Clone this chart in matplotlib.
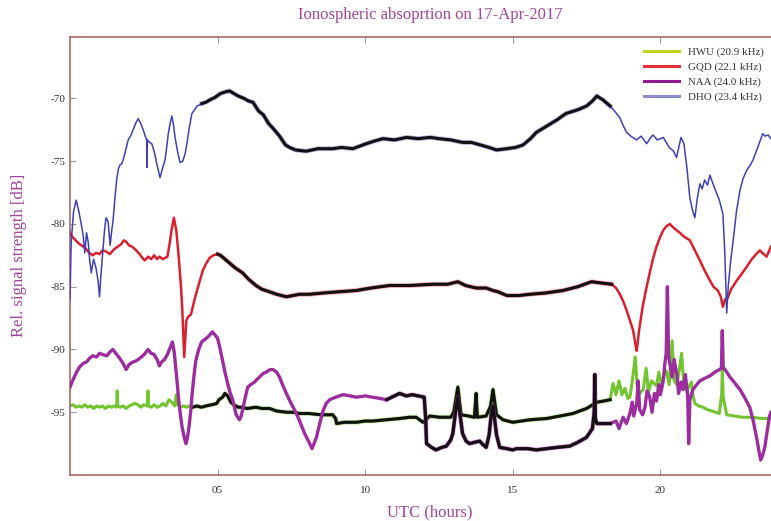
import matplotlib
matplotlib.use("Agg")
import matplotlib.pyplot as plt
from matplotlib.lines import Line2D
import numpy as np

plt.rcParams['font.family'] = ['Liberation Serif', 'DejaVu Serif']

title = "Ionospheric absoprtion on 17-Apr-2017"
xlabel = "UTC (hours)"
ylabel = "Rel. signal strength [dB]"
series_names = ["HWU (20.9 kHz)", "GQD (22.1 kHz)", "NAA (24.0 kHz)", "DHO (23.4 kHz)"]
x_ticks = [5, 10, 15, 20]
x_tick_labels = ["05", "10", "15", "20"]
y_ticks = [-70, -75, -80, -85, -90, -95]

dho_x = [0.0, 0.04, 0.12, 0.21, 0.3, 0.38, 0.45, 0.5, 0.56, 0.62, 0.66, 0.72, 0.8, 0.88, 0.95, 1.0, 1.05, 1.11,
         1.17, 1.22, 1.29, 1.36, 1.41, 1.46, 1.52, 1.58, 1.64, 1.69, 1.75, 1.8, 1.88, 1.97, 2.05, 2.14, 2.22, 2.31,
         2.4, 2.48, 2.55, 2.6, 2.61, 2.62, 2.7, 2.77, 2.85, 2.95, 3.05, 3.13, 3.22, 3.28, 3.33, 3.4, 3.45, 3.5,
         3.56, 3.65, 3.73, 3.82, 3.9, 3.96, 4.05, 4.13, 4.22, 4.3, 4.4, 4.47, 4.6, 4.75, 4.92, 5.1, 5.3, 5.41,
         5.55, 5.7, 5.9, 6.05, 6.2, 6.39, 6.55, 6.73, 6.85, 6.96, 7.1, 7.3, 7.44, 7.64, 8.0, 8.4, 8.9, 9.2, 9.58,
         10.04, 10.3, 10.6, 11.0, 11.4, 11.8, 12.2, 12.5, 12.9, 13.3, 13.6, 13.9, 14.2, 14.45, 14.8, 15.1, 15.35,
         15.6, 15.8, 16.15, 16.5, 16.8, 17.2, 17.5, 17.7, 17.85, 18.05, 18.3, 18.45, 18.62, 18.75, 18.86, 19.0,
         19.2, 19.35, 19.54, 19.65, 19.75, 19.9, 20.1, 20.2, 20.3, 20.45, 20.55, 20.7, 20.8, 20.9, 21.0, 21.08,
         21.17, 21.25, 21.34, 21.42, 21.5, 21.6, 21.68, 21.8, 21.9, 22.0, 22.12, 22.18, 22.25, 22.3, 22.38, 22.47,
         22.58, 22.7, 22.8, 22.93, 23.05, 23.14, 23.3, 23.47, 23.55, 23.65, 23.75]
dho_y = [-86.0, -81.5, -79.0, -78.1, -79.0, -80.0, -81.0, -82.3, -80.7, -81.5, -82.7, -83.9, -82.8, -83.5, -84.5,
         -85.8, -84.0, -82.3, -80.5, -79.5, -79.8, -81.7, -80.6, -79.7, -78.0, -76.5, -75.6, -75.3, -75.2, -74.9,
         -74.2, -73.3, -73.0, -72.5, -72.0, -71.6, -72.0, -72.5, -73.0, -73.3, -75.5, -73.3, -73.5, -73.6, -74.2,
         -75.3, -76.3, -75.6, -74.9, -73.8, -72.8, -71.9, -71.4, -72.0, -73.1, -74.3, -75.1, -75.0, -74.4, -73.6,
         -72.2, -71.2, -70.9, -70.6, -70.5, -70.4, -70.3, -70.1, -69.9, -69.6, -69.45, -69.4, -69.6, -69.8, -70.0,
         -70.2, -70.3, -71.0, -71.3, -72.0, -72.3, -72.6, -73.0, -73.7, -73.9, -74.1, -74.2, -74.0, -74.0, -73.9,
         -74.0, -73.6, -73.4, -73.2, -73.3, -73.1, -73.2, -73.1, -73.2, -73.3, -73.5, -73.5, -73.7, -73.9, -74.1,
         -74.0, -73.9, -73.7, -73.2, -72.7, -72.2, -71.7, -71.2, -70.9, -70.6, -70.2, -69.8, -70.1, -70.6, -71.0,
         -71.5, -72.2, -72.7, -73.0, -73.3, -73.0, -73.6, -73.2, -72.9, -73.3, -73.1, -73.5, -73.9, -74.2, -74.7,
         -73.1, -73.6, -75.5, -77.9, -78.8, -79.5, -78.0, -76.8, -77.2, -76.5, -76.9, -76.1, -76.9, -77.5, -78.1,
         -79.2, -82.0, -87.1, -85.0, -83.0, -81.3, -79.0, -77.3, -76.4, -75.7, -75.3, -74.9, -73.9, -72.8, -73.0,
         -72.9, -73.2]

gqd_x = [0.0, 0.04, 0.15, 0.32, 0.45, 0.55, 0.65, 0.77, 0.88, 1.0, 1.1, 1.23, 1.35, 1.5, 1.62, 1.74, 1.82, 1.9,
         2.0, 2.1, 2.2, 2.36, 2.45, 2.53, 2.65, 2.75, 2.85, 2.95, 3.03, 3.15, 3.3, 3.38, 3.44, 3.52, 3.6, 3.66,
         3.71, 3.76, 3.8, 3.84, 3.87, 3.91, 3.94, 4.0, 4.1, 4.2, 4.28, 4.4, 4.5, 4.6, 4.73, 4.85, 5.0, 5.1, 5.25,
         5.4, 5.6, 5.85, 6.05, 6.3, 6.5, 6.76, 7.0, 7.33, 7.55, 7.78, 8.1, 8.57, 9.1, 9.7, 10.2, 10.83, 11.5,
         12.3, 12.8, 13.14, 13.4, 13.76, 14.1, 14.33, 14.5, 14.8, 15.2, 15.58, 16.1, 16.7, 17.2, 17.67, 18.0,
         18.35, 18.5, 18.63, 18.75, 18.86, 19.0, 19.08, 19.15, 19.2, 19.28, 19.4, 19.52, 19.64, 19.75, 19.87,
         20.0, 20.1, 20.2, 20.32, 20.45, 20.55, 20.66, 20.8, 21.0, 21.15, 21.34, 21.5, 21.68, 21.8, 21.95, 22.05,
         22.12, 22.2, 22.28, 22.4, 22.59, 22.75, 22.93, 23.1, 23.25, 23.37, 23.5, 23.6, 23.75]
gqd_y = [-80.7, -80.9, -81.2, -81.6, -81.8, -82.0, -82.3, -82.5, -82.3, -82.4, -82.1, -82.2, -82.4, -82.0, -81.8,
         -81.6, -81.3, -81.4, -81.7, -81.8, -82.0, -82.4, -82.7, -82.9, -82.6, -82.8, -82.5, -82.8, -82.6, -82.8,
         -82.6, -81.5, -80.5, -79.5, -80.5, -82.0, -83.4, -85.0, -86.6, -89.0, -90.6, -89.0, -87.7, -87.4, -87.2,
         -86.2, -85.5, -84.5, -83.7, -83.2, -82.7, -82.5, -82.4, -82.5, -82.8, -83.1, -83.5, -83.9, -84.4, -84.9,
         -85.2, -85.4, -85.6, -85.8, -85.7, -85.6, -85.6, -85.5, -85.4, -85.3, -85.1, -84.9, -84.9, -84.8, -84.8,
         -84.6, -84.9, -85.1, -85.1, -85.3, -85.4, -85.7, -85.7, -85.6, -85.5, -85.3, -85.0, -84.6, -84.7, -84.8,
         -85.1, -85.6, -86.2, -86.9, -87.9, -88.5, -89.5, -90.1, -88.5, -86.6, -85.2, -83.9, -82.8, -81.8, -81.0,
         -80.5, -80.2, -80.0, -80.3, -80.5, -80.7, -81.0, -81.3, -82.0, -82.9, -83.7, -84.5, -85.0, -85.3, -85.8,
         -86.6, -86.0, -85.9, -85.2, -84.5, -84.0, -83.4, -82.8, -82.4, -82.1, -82.4, -82.6, -81.8]

naa_x = [0.0, 0.05, 0.18, 0.32, 0.45, 0.56, 0.66, 0.77, 0.9, 1.0, 1.1, 1.25, 1.35, 1.45, 1.55, 1.65, 1.74, 1.82,
         1.9, 2.0, 2.13, 2.25, 2.42, 2.55, 2.64, 2.75, 2.85, 2.95, 3.03, 3.1, 3.2, 3.3, 3.4, 3.47, 3.53, 3.58,
         3.63, 3.68, 3.74, 3.8, 3.87, 3.93, 3.98, 4.03, 4.09, 4.14, 4.2, 4.26, 4.36, 4.46, 4.57, 4.67, 4.75, 4.82,
         4.9, 5.0, 5.08, 5.17, 5.25, 5.34, 5.42, 5.51, 5.63, 5.74, 5.8, 5.85, 5.93, 6.02, 6.12, 6.25, 6.33, 6.42,
         6.55, 6.65, 6.78, 6.88, 7.0, 7.1, 7.2, 7.33, 7.45, 7.56, 7.67, 7.78, 7.95, 8.08, 8.2, 8.35, 8.45, 8.57,
         8.68, 8.8, 9.0, 9.25, 9.5, 9.7, 10.0, 10.26, 10.5, 10.73, 10.9, 11.17, 11.4, 11.6, 11.8, 12.0, 12.05,
         12.08, 12.25, 12.4, 12.6, 12.75, 12.9, 12.97, 13.05, 13.14, 13.22, 13.3, 13.42, 13.54, 13.7, 13.88, 14.0,
         14.1, 14.2, 14.28, 14.33, 14.4, 14.45, 14.56, 14.8, 15.0, 15.13, 15.5, 15.8, 16.15, 16.5, 16.93, 17.2,
         17.5, 17.7, 17.76, 17.78, 17.8, 17.85, 18.1, 18.3, 18.5, 18.6, 18.74, 18.85, 18.97, 19.05, 19.1, 19.2,
         19.25, 19.3, 19.4, 19.48, 19.55, 19.64, 19.72, 19.8, 19.87, 19.95, 20.0, 20.1, 20.15, 20.2, 20.24, 20.28,
         20.35, 20.4, 20.47, 20.56, 20.62, 20.7, 20.77, 20.85, 20.93, 20.96, 21.0, 21.1, 21.2, 21.34, 21.5, 21.68,
         21.85, 22.0, 22.07, 22.1, 22.13, 22.25, 22.36, 22.5, 22.7, 22.85, 23.03, 23.15, 23.26, 23.35, 23.4,
         23.47, 23.54, 23.62, 23.7, 23.75]
naa_y = [-93.0, -92.7, -92.0, -91.4, -91.1, -91.0, -90.7, -90.5, -90.6, -90.3, -90.4, -90.5, -90.2, -90.0, -90.3,
         -90.6, -90.9, -91.2, -91.6, -91.2, -91.0, -90.9, -90.6, -90.3, -90.0, -90.3, -90.4, -90.8, -91.3, -91.0,
         -90.8, -90.4, -89.8, -89.4, -90.2, -91.4, -92.6, -94.0, -95.2, -96.2, -97.0, -97.5, -97.0, -96.2, -94.9,
         -93.5, -92.1, -90.9, -90.0, -89.4, -89.2, -89.0, -88.8, -88.6, -88.8, -89.1, -89.9, -90.9, -91.8, -92.7,
         -93.4, -94.0, -95.2, -95.6, -95.3, -94.8, -93.9, -93.0, -92.8, -92.6, -92.4, -92.2, -91.9, -91.8, -91.6,
         -91.6, -91.8, -92.2, -92.8, -93.5, -94.1, -94.6, -95.1, -95.7, -96.7, -97.3, -97.9, -97.0, -96.0, -94.9,
         -94.3, -94.0, -93.8, -93.6, -93.7, -93.8, -93.7, -93.8, -93.9, -94.0, -93.8, -93.5, -93.7, -93.6, -93.7,
         -93.8, -95.5, -97.5, -97.8, -98.0, -97.8, -97.7, -97.2, -96.7, -95.2, -93.8, -95.3, -96.7, -97.3, -97.5,
         -97.4, -97.3, -97.6, -97.8, -96.8, -95.0, -94.5, -95.8, -96.8, -97.8, -97.9, -98.0, -97.9, -97.9, -98.0,
         -97.9, -97.8, -97.7, -97.4, -97.0, -96.3, -95.0, -92.0, -95.5, -95.9, -95.9, -95.9, -95.7, -96.3, -95.4,
         -95.9, -95.1, -94.2, -95.3, -94.3, -92.5, -94.8, -95.2, -94.6, -93.3, -93.8, -95.0, -93.5, -94.1, -92.8,
         -93.6, -92.5, -91.2, -90.3, -85.0, -90.5, -91.5, -92.2, -90.8, -92.0, -93.5, -92.6, -93.2, -92.0, -93.8,
         -97.5, -94.0, -93.2, -92.9, -92.5, -92.3, -92.1, -91.8, -91.6, -91.5, -88.5, -91.4, -91.8, -92.2, -92.6,
         -93.2, -93.8, -94.6, -95.7, -97.0, -98.2, -98.8, -98.4, -97.8, -96.5, -95.3, -95.0]

hwu_x = [0.0, 0.1, 0.2, 0.3, 0.4, 0.5, 0.6, 0.7, 0.8, 0.9, 1.0, 1.1, 1.2, 1.3, 1.4, 1.5, 1.58, 1.6, 1.62, 1.7, 1.8,
         1.9, 2.0, 2.1, 2.2, 2.3, 2.4, 2.5, 2.62, 2.64, 2.66, 2.75, 2.85, 2.95, 3.05, 3.15, 3.25, 3.35, 3.45, 3.55,
         3.6, 3.65, 3.75, 3.85, 3.95, 4.05, 4.15, 4.3, 4.45, 4.6, 4.8, 4.97, 5.05, 5.17, 5.25, 5.34, 5.45, 5.55,
         5.7, 5.8, 6.0, 6.3, 6.5, 6.76, 7.0, 7.33, 7.55, 7.78, 8.1, 8.5, 8.9, 9.0, 9.03, 9.3, 9.7, 10.0, 10.26,
         10.7, 11.17, 11.5, 11.73, 11.96, 12.1, 12.19, 12.52, 12.9, 13.0, 13.14, 13.25, 13.5, 13.7, 13.76, 13.8,
         14.1, 14.25, 14.33, 14.45, 14.67, 15.0, 15.58, 16.15, 16.6, 17.04, 17.5, 17.85, 18.1, 18.3, 18.4, 18.5,
         18.6, 18.7, 18.8, 18.9, 18.97, 19.05, 19.15, 19.22, 19.3, 19.42, 19.52, 19.6, 19.7, 19.87, 19.95, 20.05,
         20.12, 20.2, 20.3, 20.4, 20.47, 20.56, 20.65, 20.72, 20.8, 20.9, 21.05, 21.12, 21.17, 21.3, 21.45, 21.6,
         21.75, 22.0, 22.08, 22.1, 22.13, 22.25, 22.5, 22.8, 23.1, 23.47, 23.75]
hwu_y = [-94.5, -94.4, -94.6, -94.5, -94.6, -94.4, -94.6, -94.5, -94.7, -94.5, -94.6, -94.5, -94.7, -94.5, -94.6,
         -94.5, -94.6, -93.3, -94.5, -94.6, -94.5, -94.7, -94.5, -94.4, -94.3, -94.4, -94.6, -94.4, -94.5, -93.3,
         -94.5, -94.6, -94.4, -94.6, -94.5, -94.3, -94.5, -94.0, -94.2, -94.5, -93.6, -94.4, -94.6, -94.5, -94.6,
         -94.5, -94.6, -94.5, -94.6, -94.5, -94.4, -94.3, -94.0, -93.8, -93.5, -93.7, -94.2, -94.4, -94.6, -94.6,
         -94.7, -94.6, -94.7, -94.7, -94.9, -95.0, -95.0, -95.1, -95.1, -95.2, -95.2, -95.5, -95.9, -95.8, -95.8,
         -95.7, -95.7, -95.6, -95.5, -95.4, -95.4, -95.8, -95.5, -95.3, -95.4, -95.4, -95.0, -93.0, -95.2, -95.3,
         -95.4, -93.5, -95.4, -95.3, -94.5, -93.2, -95.2, -95.6, -95.8, -95.6, -95.5, -95.3, -95.1, -94.7, -94.2,
         -94.1, -94.0, -92.7, -93.6, -92.5, -93.6, -93.1, -93.9, -93.8, -92.5, -90.6, -93.0, -93.5, -93.2, -91.5,
         -93.4, -92.5, -92.9, -91.8, -93.0, -92.0, -91.7, -92.8, -89.3, -92.5, -92.8, -91.5, -90.3, -92.9, -93.3,
         -92.6, -93.8, -94.3, -94.5, -94.6, -94.8, -94.9, -95.1, -93.5, -91.6, -93.8, -95.2, -95.3, -95.4, -95.4,
         -95.5, -95.5]

hwu_day = (4.15, 18.35)
gqd_day = (5.0, 18.35)
naa_day = (10.73, 18.35)
dho_day = (4.47, 18.3)

line_colors = {"HWU": "#72c430", "GQD": "#d9202e", "NAA": "#9b2d9e", "DHO": "#4040b4"}
line_widths = {"HWU": 2.2, "GQD": 1.8, "NAA": 2.4, "DHO": 1.1}
legend_colors = ["#c3d21a", "#e0303c", "#8e1c8e", "#8a8ccc"]
frame_color = "#a86a64"
text_color = "#a0449a"

fig = plt.figure(figsize=(7.71, 5.21), dpi=100)
ax = fig.add_axes([70 / 771, 1 - 475 / 521, 1 - 70 / 771, (475 - 37) / 521])


def draw(xs, ys, key, day, z):
    xs = np.asarray(xs)
    ys = np.asarray(ys)
    color = line_colors[key]
    ax.plot(xs, ys, color=color, lw=line_widths[key], zorder=z)
    m = (xs >= day[0]) & (xs <= day[1])
    ax.plot(xs[m], ys[m], color=color, lw=3.4, alpha=0.4, zorder=z + 0.1)
    ax.plot(xs[m], ys[m], color="#111111", lw=2.2, zorder=z + 0.2)


draw(hwu_x, hwu_y, "HWU", hwu_day, 2)
draw(naa_x, naa_y, "NAA", naa_day, 3)
draw(gqd_x, gqd_y, "GQD", gqd_day, 4)
draw(dho_x, dho_y, "DHO", dho_day, 5)

ax.set_xlim(0, 23.75)
ax.set_ylim(-100, -65.1)
ax.set_xticks(x_ticks)
ax.set_xticklabels(x_tick_labels)
ax.set_yticks(y_ticks)
ax.set_yticklabels([str(v) for v in y_ticks])
ax.tick_params(axis='both', direction='in', length=4, width=0.8, color="#999999",
               labelsize=8, labelcolor="#333333")
ax.tick_params(axis='x', top=True, pad=8)
ax.tick_params(axis='y', pad=3)
for s in ["left", "top", "bottom"]:
    ax.spines[s].set_color(frame_color)
    ax.spines[s].set_linewidth(1.2)
ax.spines["right"].set_visible(False)

fig.text(430 / 771, 1 - 15 / 521, title, ha='center', va='center', color=text_color, fontsize=12)
fig.text(430 / 771, 1 - 512 / 521, xlabel, ha='center', va='center', color=text_color, fontsize=12)
fig.text(19 / 771, 1 - 255 / 521, ylabel, ha='center', va='center', color=text_color, fontsize=12,
         rotation=90)

handles = [Line2D([0], [0], color=c, lw=2.2) for c in legend_colors]
leg = ax.legend(handles, series_names, loc='upper right', bbox_to_anchor=(1.0, 0.995), frameon=False,
                fontsize=7.8, handlelength=3.2, handletextpad=0.8, labelspacing=0.5,
                borderaxespad=0.3)
for t in leg.get_texts():
    t.set_color("#333333")

fig.savefig("out.png", dpi=100)
